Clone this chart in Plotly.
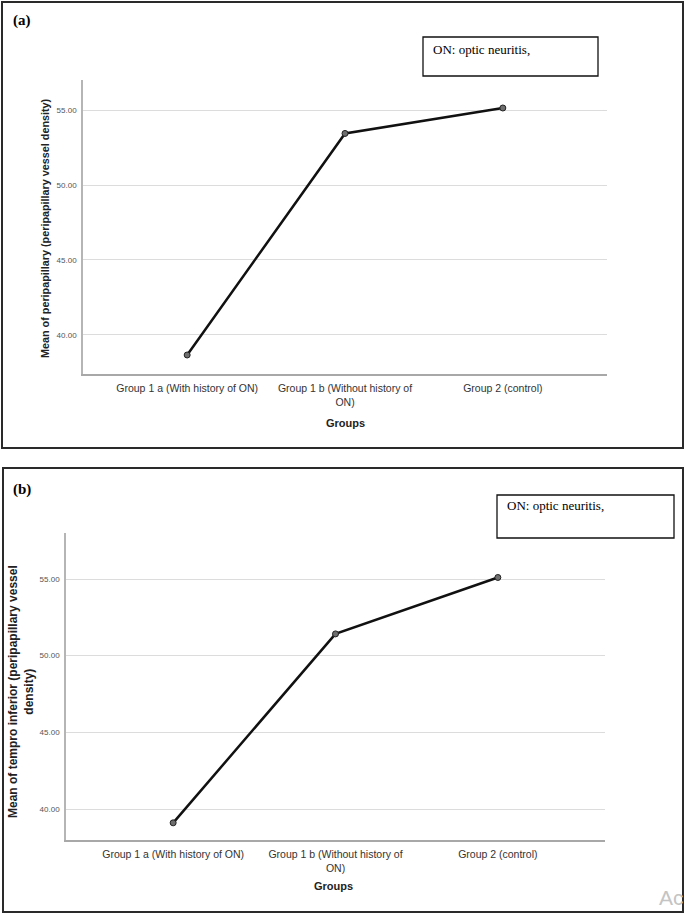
import plotly.graph_objects as go

W, H = 685, 914

groups = ["Group 1 a (With history of ON)", "Group 1 b (Without history of<br>ON)", "Group 2 (control)"]
x_pos = [0, 1, 2]
peripapillary_mean = [38.65, 53.45, 55.15]
tempro_inferior_mean = [39.1, 51.42, 55.1]
y_ticks = [40, 45, 50, 55]

def px(x):
    return x / W

def py(y):
    return 1 - y / H

fig = go.Figure()

line_style = dict(color="#111111", width=2.5)
marker_style = dict(size=6, color="#6e6e6e", line=dict(color="#222222", width=1))

fig.add_trace(go.Scatter(x=x_pos, y=peripapillary_mean, mode="lines+markers",
                         line=line_style, marker=marker_style, xaxis="x", yaxis="y",
                         showlegend=False, hoverinfo="skip"))
fig.add_trace(go.Scatter(x=x_pos, y=tempro_inferior_mean, mode="lines+markers",
                         line=line_style, marker=marker_style, xaxis="x2", yaxis="y2",
                         showlegend=False, hoverinfo="skip"))

xcommon = dict(range=[-0.66, 2.66], tickmode="array", tickvals=x_pos, ticktext=groups,
               showgrid=False, zeroline=False, showline=True, linecolor="#a8a8a8", linewidth=1.5,
               ticks="", tickfont=dict(family="Arial, Liberation Sans", size=10.5, color="#333333"),
               ticklabelstandoff=4, fixedrange=True)
ycommon = dict(tickmode="array", tickvals=y_ticks, tickformat=".2f",
               showgrid=True, gridcolor="#dcdcdc", gridwidth=1, zeroline=False,
               showline=True, linecolor="#b5b5b5", linewidth=1.5, ticks="",
               tickfont=dict(family="Arial, Liberation Sans", size=8, color="#555555"),
               ticklabelstandoff=3, fixedrange=True)

fig.update_layout(
    width=W, height=H,
    margin=dict(l=0, r=0, t=0, b=0),
    paper_bgcolor="white", plot_bgcolor="white",
    xaxis=dict(domain=[px(83), px(607)], anchor="y", **xcommon),
    yaxis=dict(domain=[py(374), py(80)], range=[37.38, 57.02], anchor="x", **ycommon),
    xaxis2=dict(domain=[px(66), px(605)], anchor="y2", **xcommon),
    yaxis2=dict(domain=[py(840), py(533)], range=[37.98, 58.0], anchor="x2", **ycommon),
)

# Panel frames
frame = dict(color="#2a2a2a", width=2)
fig.add_shape(type="rect", xref="paper", yref="paper", x0=px(2), x1=px(683), y0=py(448), y1=py(2), line=frame)
fig.add_shape(type="rect", xref="paper", yref="paper", x0=px(3), x1=px(683), y0=py(912), y1=py(468), line=frame)

# Note boxes
box = dict(color="#111111", width=1.3)
fig.add_shape(type="rect", xref="paper", yref="paper", x0=px(423), x1=px(598), y0=py(76), y1=py(37), line=box)
fig.add_shape(type="rect", xref="paper", yref="paper", x0=px(497), x1=px(674), y0=py(538), y1=py(495), line=box)

serif = "Times New Roman, Liberation Serif, serif"
sans = "Arial, Liberation Sans, sans-serif"

ann = []
ann.append(dict(text="ON: optic neuritis,", x=px(431), y=py(50), xanchor="left", yanchor="middle",
                font=dict(family=serif, size=13, color="#000")))
ann.append(dict(text="ON: optic neuritis,", x=px(505), y=py(506), xanchor="left", yanchor="middle",
                font=dict(family=serif, size=13, color="#000")))
ann.append(dict(text="<b>(a)</b>", x=px(11), y=py(20), xanchor="left", yanchor="middle",
                font=dict(family=serif, size=15, color="#000")))
ann.append(dict(text="<b>(b)</b>", x=px(11), y=py(489), xanchor="left", yanchor="middle",
                font=dict(family=serif, size=15, color="#000")))
ann.append(dict(text="<b>Mean of peripapillary (peripapillary vessel density)</b>", x=px(45), y=py(228),
                textangle=-90, xanchor="center", yanchor="middle",
                font=dict(family=sans, size=10.8, color="#222")))
ann.append(dict(text="<b>Mean of tempro inferior (peripapillary vessel<br>density)</b>", x=px(21), y=py(692),
                textangle=-90, xanchor="center", yanchor="middle",
                font=dict(family=sans, size=12, color="#222")))
ann.append(dict(text="<b>Groups</b>", x=px(345), y=py(423), xanchor="center", yanchor="middle",
                font=dict(family=sans, size=11, color="#222")))
ann.append(dict(text="<b>Groups</b>", x=px(333), y=py(886), xanchor="center", yanchor="middle",
                font=dict(family=sans, size=11, color="#222")))
ann.append(dict(text="Ac", x=px(657), y=py(897), xanchor="left", yanchor="middle",
                font=dict(family=sans, size=21, color="#c4c4c4")))
for a in ann:
    a.update(xref="paper", yref="paper", showarrow=False)
fig.update_layout(annotations=ann)

fig.write_html("out.html", config={"displayModeBar": False},
               post_script="document.body.style.margin='0';document.body.style.overflow='hidden';")
